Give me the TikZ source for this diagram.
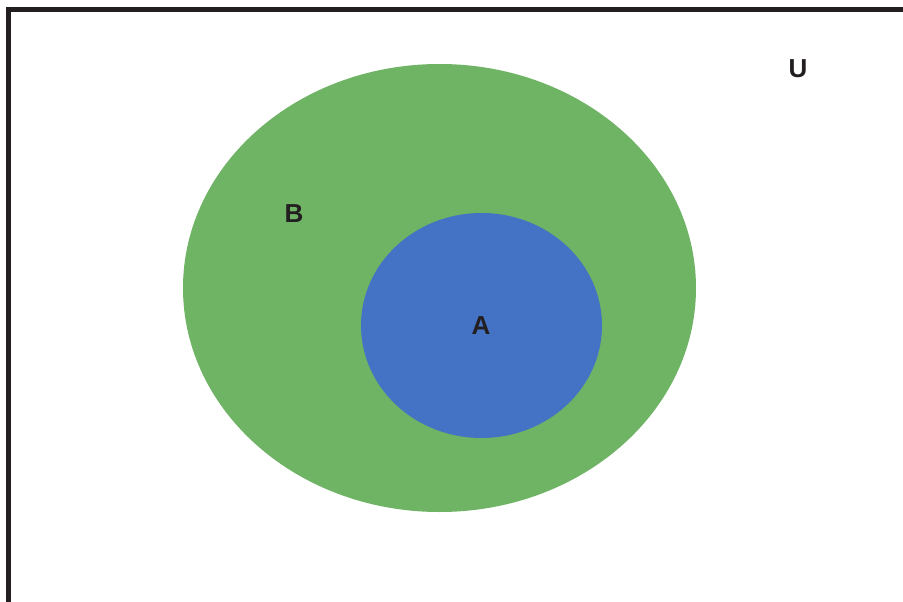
\documentclass[tikz,border=0pt]{standalone}
\usepackage{fontspec}
\setmainfont{Liberation Sans}
\definecolor{bgreen}{HTML}{6FB365}
\definecolor{ablue}{HTML}{4472C4}
\definecolor{ink}{HTML}{231F20}
\begin{document}
\begin{tikzpicture}[x=1pt,y=-1pt,
  lbl/.style={font=\fontsize{26}{26}\selectfont\bfseries, text=ink, inner sep=0pt}]
\useasboundingbox (0,0) rectangle (903,602);
\clip (0,0) rectangle (903,602);
\fill[white] (0,0) rectangle (903,602);
\draw[ink, line width=5pt] (8.5,640) -- (8.5,9.5) -- (940,9.5);
\fill[bgreen] (439.5,288) ellipse [x radius=256.5, y radius=224];
\fill[ablue] (481.5,325.5) ellipse [x radius=120.5, y radius=112.5];
\node[lbl] (U) at (798,69) {U};
\node[lbl] (B) at (294,214) {B};
\node[lbl] (A) at (481,326) {A};
\end{tikzpicture}
\end{document}
